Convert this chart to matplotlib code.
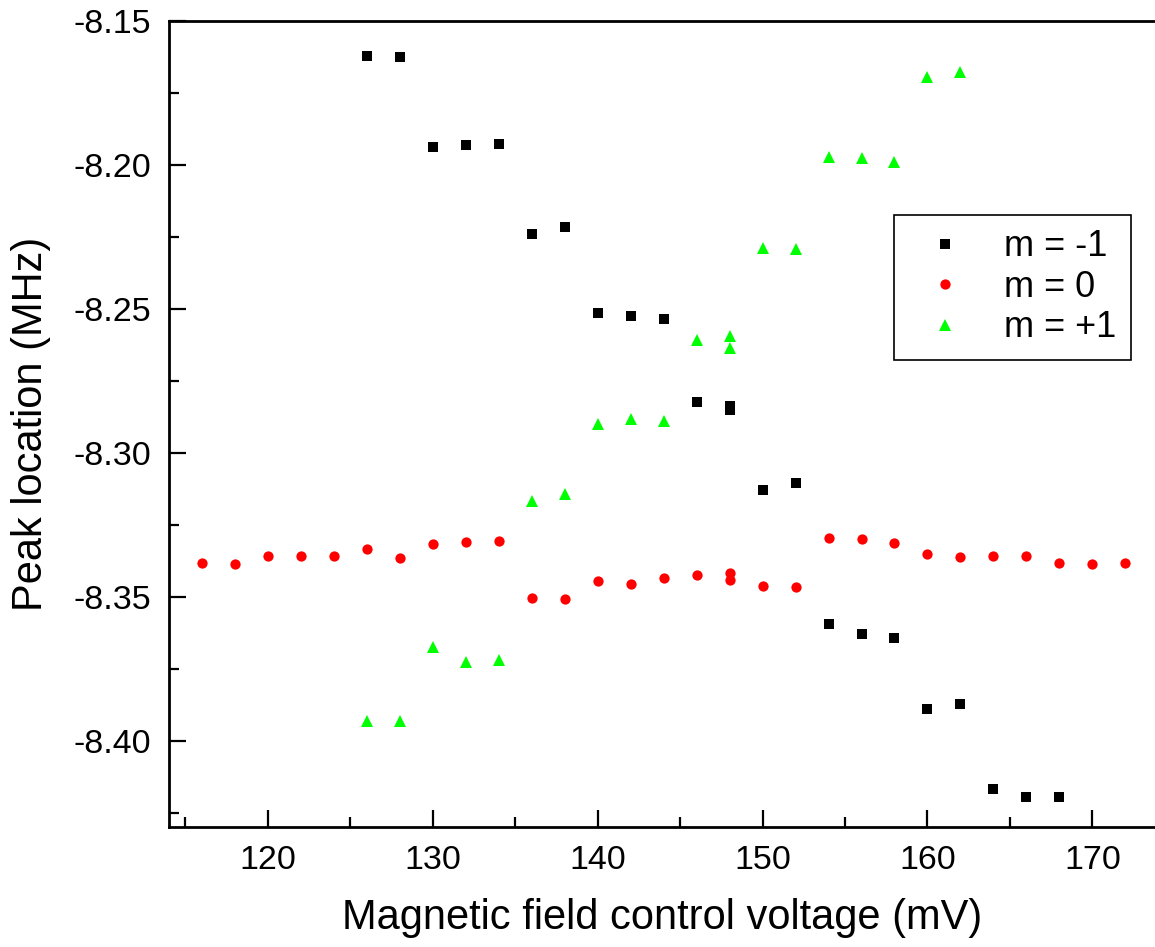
import matplotlib
matplotlib.use("Agg")
import matplotlib.pyplot as plt
from matplotlib.ticker import MultipleLocator

plt.rcParams['font.family'] = ['Liberation Sans', 'DejaVu Sans']

# m = -1 (black squares)
x_m1 = [126, 128, 130, 132, 134, 136, 138, 140, 142, 144, 146, 148, 148,
        150, 152, 154, 156, 158, 160, 162, 164, 166, 168]
y_m1 = [-8.1622, -8.1625, -8.1937, -8.1930, -8.1926, -8.2241, -8.2217,
        -8.2513, -8.2525, -8.2534, -8.2823, -8.2838, -8.2852,
        -8.3130, -8.3106, -8.3596, -8.3631, -8.3645, -8.3889, -8.3872,
        -8.4169, -8.4196, -8.4196]

# m = 0 (red circles)
x_0 = [116, 118, 120, 122, 124, 126, 128, 130, 132, 134, 136, 138, 140,
       142, 144, 146, 148, 148, 150, 152, 154, 156, 158, 160, 162, 164,
       166, 168, 170, 172]
y_0 = [-8.3383, -8.3386, -8.3358, -8.3360, -8.3360, -8.3334, -8.3366,
       -8.3317, -8.3311, -8.3306, -8.3503, -8.3508, -8.3444,
       -8.3455, -8.3434, -8.3424, -8.3418, -8.3443, -8.3462, -8.3467,
       -8.3296, -8.3301, -8.3315, -8.3350, -8.3363, -8.3358,
       -8.3357, -8.3384, -8.3385, -8.3383]

# m = +1 (green triangles)
x_p1 = [126, 128, 130, 132, 134, 136, 138, 140, 142, 144, 146, 148, 148,
        150, 152, 154, 156, 158, 160, 162]
y_p1 = [-8.3930, -8.3930, -8.3673, -8.3727, -8.3720, -8.3166, -8.3144,
        -8.2900, -8.2881, -8.2890, -8.2609, -8.2595, -8.2635,
        -8.2287, -8.2292, -8.1972, -8.1977, -8.1991, -8.1695, -8.1678]

fig = plt.figure(figsize=(11.55, 9.47), dpi=100)
ax = fig.add_axes([0.1463, 0.1267, 0.8537, 0.8511])

ax.plot(x_m1, y_m1, 's', color='black', ms=6.8, mew=0, label='m = -1')
ax.plot(x_0, y_0, 'o', color='red', ms=7.4, mew=0, label='m = 0')
ax.plot(x_p1, y_p1, '^', color='#00ff00', ms=8.4, mew=0, label='m = +1')

ax.set_xlim(114.0, 173.8)
ax.set_ylim(-8.430, -8.150)

ax.xaxis.set_major_locator(MultipleLocator(10))
ax.xaxis.set_minor_locator(MultipleLocator(5))
ax.yaxis.set_major_locator(MultipleLocator(0.05))
ax.yaxis.set_minor_locator(MultipleLocator(0.025))
ax.yaxis.set_major_formatter(plt.FormatStrFormatter('%.2f'))

ax.tick_params(which='both', direction='in', width=1.6, labelsize=24.5, pad=13)
ax.tick_params(which='major', length=12)
ax.tick_params(which='minor', length=7)
ax.tick_params(top=False, right=False)

for side in ['left', 'bottom', 'top']:
    ax.spines[side].set_linewidth(2.0)
ax.spines['right'].set_visible(False)

ax.set_xlabel('Magnetic field control voltage (mV)', fontsize=30, labelpad=16)
ax.set_ylabel('Peak location (MHz)', fontsize=30, labelpad=16)

leg = ax.legend(loc='upper right', bbox_to_anchor=(0.9757, 0.7593),
                borderaxespad=0, fontsize=26, numpoints=1, fancybox=False,
                framealpha=1, edgecolor='black', borderpad=0.4,
                labelspacing=0.15, handlelength=2.0, handletextpad=0.65)
leg.get_frame().set_linewidth(1.2)

fig.savefig('out.png', dpi=100)
